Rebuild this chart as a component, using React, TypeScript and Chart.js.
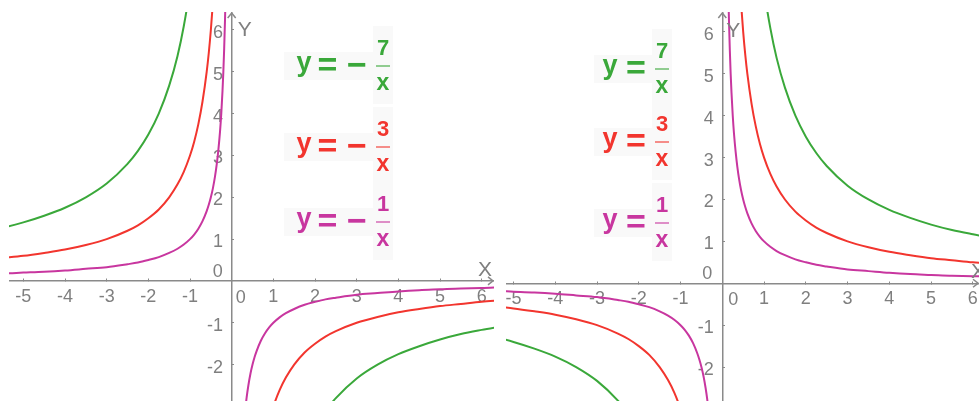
import React, { useEffect, useRef } from 'react';
import { Chart, registerables } from 'chart.js';

Chart.register(...registerables);

// Distance from the y axis for the sampled points of every hyperbola branch.
const SAMPLE_X = [
  0.14, 0.15, 0.16, 0.18, 0.2, 0.22, 0.25, 0.28, 0.32, 0.36, 0.4, 0.45, 0.5, 0.55, 0.6, 0.7, 0.8,
  0.9, 1.0, 1.15, 1.3, 1.5, 1.75, 2.0, 2.25, 2.5, 3.0, 3.5, 4.0, 4.5, 5.0, 5.5, 6.0, 6.5,
];
// |y| at those distances for the curves with numerator 7, 3 and 1.
const ABS_Y_7 = [
  50, 46.67, 43.75, 38.89, 35, 31.82, 28, 25, 21.88, 19.44, 17.5, 15.56, 14, 12.73, 11.67, 10, 8.75,
  7.78, 7, 6.09, 5.38, 4.67, 4, 3.5, 3.11, 2.8, 2.33, 2, 1.75, 1.56, 1.4, 1.27, 1.17, 1.08,
];
const ABS_Y_3 = [
  21.43, 20, 18.75, 16.67, 15, 13.64, 12, 10.71, 9.38, 8.33, 7.5, 6.67, 6, 5.45, 5, 4.29, 3.75,
  3.33, 3, 2.61, 2.31, 2, 1.71, 1.5, 1.33, 1.2, 1, 0.86, 0.75, 0.67, 0.6, 0.55, 0.5, 0.46,
];
const ABS_Y_1 = [
  7.14, 6.67, 6.25, 5.56, 5, 4.55, 4, 3.57, 3.13, 2.78, 2.5, 2.22, 2, 1.82, 1.67, 1.43, 1.25,
  1.11, 1, 0.87, 0.77, 0.67, 0.57, 0.5, 0.44, 0.4, 0.33, 0.29, 0.25, 0.22, 0.2, 0.18, 0.17, 0.15,
];
const NUMERATORS = ['7', '3', '1'];
const AXIS_TITLES = ['X', 'Y'];

const GREEN = '#3aa83a';
const RED = '#f2352e';
const MAGENTA = '#c8369f';
const CURVE_COLORS = [GREEN, RED, MAGENTA];
const CURVE_VALUES = [ABS_Y_7, ABS_Y_3, ABS_Y_1];

const AXIS_COLOR = '#8a8a8a';
const LABEL_COLOR = '#7f7f7f';
const FONT_FAMILY = '"Liberation Sans", Arial, sans-serif';

type PanelProps = {
  sign: 1 | -1;
  left: number;
  top: number;
  width: number;
  height: number;
  xMin: number;
  xMax: number;
  yMin: number;
  yMax: number;
  zeroY: [number, number];
  zeroX: [number, number];
  titleX: [number, number];
  titleY: [number, number];
};

function buildDatasets(sign: 1 | -1) {
  const sets: any[] = [];
  CURVE_VALUES.forEach((abs, c) => {
    const negBranch = SAMPLE_X.map((s, i) => ({ x: -s, y: -sign * abs[i] })).reverse();
    const posBranch = SAMPLE_X.map((s, i) => ({ x: s, y: sign * abs[i] }));
    [negBranch, posBranch].forEach((data) => {
      sets.push({
        data,
        borderColor: CURVE_COLORS[c],
        borderWidth: 2,
        pointRadius: 0,
        fill: false,
        cubicInterpolationMode: 'monotone',
      });
    });
  });
  return sets;
}

function Panel(p: PanelProps) {
  const ref = useRef<HTMLCanvasElement | null>(null);

  useEffect(() => {
    if (!ref.current) return;

    const decor = {
      id: 'axisDecor',
      afterDraw(chart: any) {
        const { ctx, chartArea, scales } = chart;
        const x0 = scales.x.getPixelForValue(0);
        const y0 = scales.y.getPixelForValue(0);
        ctx.save();
        // arrow heads at the ends of both axes
        ctx.strokeStyle = AXIS_COLOR;
        ctx.lineWidth = 1.5;
        ctx.beginPath();
        ctx.moveTo(x0 - 4, chartArea.top + 6);
        ctx.lineTo(x0, chartArea.top + 1);
        ctx.lineTo(x0 + 4, chartArea.top + 6);
        ctx.moveTo(chartArea.right - 6, y0 - 4);
        ctx.lineTo(chartArea.right - 1, y0);
        ctx.lineTo(chartArea.right - 6, y0 + 4);
        ctx.stroke();
        // origin labels
        ctx.fillStyle = LABEL_COLOR;
        ctx.font = `18px ${FONT_FAMILY}`;
        ctx.textAlign = 'center';
        ctx.textBaseline = 'middle';
        ctx.fillText('0', x0 + p.zeroY[0], y0 + p.zeroY[1]);
        ctx.fillText('0', x0 + p.zeroX[0], y0 + p.zeroX[1]);
        // axis titles
        ctx.font = `21px ${FONT_FAMILY}`;
        ctx.fillText(AXIS_TITLES[0], chartArea.right + p.titleX[0], y0 + p.titleX[1]);
        ctx.fillText(AXIS_TITLES[1], x0 + p.titleY[0], chartArea.top + p.titleY[1]);
        ctx.restore();
      },
    };

    const xTickLabel = (v: any) => (v === 0 || !Number.isInteger(v) ? '' : String(v));
    // y labels sit right-aligned on the axis line, the trailing spaces keep them clear of it
    const yTickLabel = (v: any) => (v === 0 || !Number.isInteger(v) ? '' : String(v) + ' \u2009');

    const chart = new Chart(ref.current, {
      type: 'line',
      data: { datasets: buildDatasets(p.sign) },
      plugins: [decor],
      options: {
        animation: false,
        responsive: false,
        events: [],
        layout: { padding: 0 },
        plugins: { legend: { display: false }, tooltip: { enabled: false } },
        scales: {
          x: {
            type: 'linear',
            min: p.xMin,
            max: p.xMax,
            position: { y: 0 },
            afterFit: (s: any) => {
              s.height = 0;
              s.paddingLeft = 0;
              s.paddingRight = 0;
            },
            border: { display: true, color: AXIS_COLOR, width: 1.5 },
            grid: { display: true, drawOnChartArea: false, drawTicks: true, tickLength: -3, color: AXIS_COLOR },
            ticks: {
              stepSize: 1,
              includeBounds: false,
              autoSkip: false,
              maxRotation: 0,
              padding: 8,
              color: LABEL_COLOR,
              font: { family: FONT_FAMILY, size: 18 },
              callback: xTickLabel,
            },
          },
          y: {
            type: 'linear',
            min: p.yMin,
            max: p.yMax,
            position: { x: 0 },
            afterFit: (s: any) => {
              s.width = 0;
              s.paddingTop = 0;
              s.paddingBottom = 0;
            },
            border: { display: true, color: AXIS_COLOR, width: 1.5 },
            grid: { display: true, drawOnChartArea: false, drawTicks: true, tickLength: -3, color: AXIS_COLOR },
            ticks: {
              stepSize: 1,
              includeBounds: false,
              autoSkip: false,
              padding: 6,
              labelOffset: 3,
              color: LABEL_COLOR,
              font: { family: FONT_FAMILY, size: 18 },
              callback: yTickLabel,
            },
          },
        },
      } as any,
    });
    return () => chart.destroy();
  }, []);

  return (
    <canvas
      ref={ref}
      width={p.width}
      height={p.height}
      style={{ position: 'absolute', left: p.left, top: p.top, width: p.width, height: p.height }}
    />
  );
}

function Glyph({ text, cx, baseline, size, color }: { text: string; cx: number; baseline: number; size: number; color: string }) {
  return (
    <span
      style={{
        position: 'absolute',
        left: cx - 30,
        width: 60,
        top: baseline - 0.8465 * size,
        textAlign: 'center',
        font: `700 ${size}px ${FONT_FAMILY}`,
        lineHeight: `${size}px`,
        color,
        whiteSpace: 'nowrap',
      }}
    >
      {text}
    </span>
  );
}

function Formula({
  axis,
  yC,
  eqC,
  minusC,
  fracC,
  boxL,
  num,
  color,
}: {
  axis: number;
  yC: number;
  eqC: number;
  minusC: number | null;
  fracC: number;
  boxL: number;
  num: string;
  color: string;
}) {
  return (
    <>
      <div style={{ position: 'absolute', left: boxL, top: axis - 12, width: fracC - 10 - boxL, height: 28, background: '#f9f9f9' }} />
      <div style={{ position: 'absolute', left: fracC - 10, top: axis - 38, width: 20, height: 78, background: '#f9f9f9' }} />
      <Glyph text="y" cx={yC} baseline={axis + 7.5} size={27} color={color} />
      <Glyph text="=" cx={eqC} baseline={axis + 12} size={34} color={color} />
      {minusC !== null && <Glyph text="−" cx={minusC} baseline={axis + 12} size={34} color={color} />}
      <Glyph text={num} cx={fracC} baseline={axis - 8} size={22} color={color} />
      <div style={{ position: 'absolute', left: fracC - 7, top: axis + 1, width: 14, height: 1.5, background: color, opacity: 0.55 }} />
      <Glyph text="x" cx={fracC} baseline={axis + 26} size={23} color={color} />
    </>
  );
}

const LEFT_AXES = [64, 145, 220];
const RIGHT_AXES = [67, 140, 221];

export default function App() {
  return (
    <div style={{ position: 'absolute', left: 0, top: 0, width: 979, height: 401, background: '#ffffff', overflow: 'hidden' }}>
      <Panel
        sign={-1}
        left={9}
        top={12}
        width={485}
        height={389}
        xMin={-5.344}
        xMax={6.295}
        yMin={-2.87}
        yMax={6.43}
        zeroY={[-14, -9]}
        zeroX={[9, 17]}
        titleX={[-9, -11]}
        titleY={[13, 18]}
      />
      <Panel
        sign={1}
        left={506}
        top={12}
        width={473}
        height={389}
        xMin={-5.18}
        xMax={6.147}
        yMin={-2.81}
        yMax={6.475}
        zeroY={[-15, -9]}
        zeroX={[11, 17]}
        titleX={[-1, -11]}
        titleY={[11, 19]}
      />
      {NUMERATORS.map((n, i) => (
        <Formula key={'l' + n} axis={LEFT_AXES[i]} yC={304} eqC={327.5} minusC={357} fracC={383} boxL={284} num={n} color={CURVE_COLORS[i]} />
      ))}
      {NUMERATORS.map((n, i) => (
        <Formula key={'r' + n} axis={RIGHT_AXES[i]} yC={610} eqC={636} minusC={null} fracC={662} boxL={594} num={n} color={CURVE_COLORS[i]} />
      ))}
    </div>
  );
}
